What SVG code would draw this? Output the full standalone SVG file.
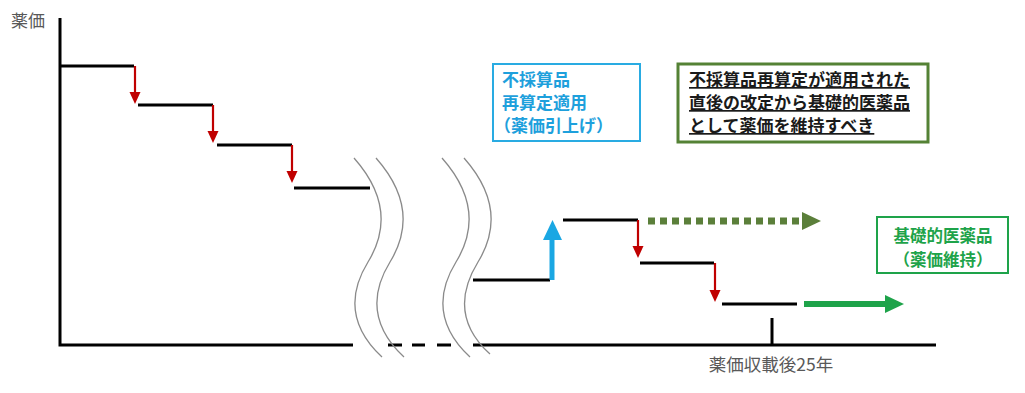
<svg xmlns="http://www.w3.org/2000/svg" width="1025" height="393" viewBox="0 0 1025 393">
<style>
.ax{stroke:#000;stroke-width:3;fill:none}
.st{stroke:#000;stroke-width:3;fill:none}
.wv{stroke:#8a8a8a;stroke-width:1.3;fill:none}
.red{stroke:#c00000;stroke-width:2.2;fill:none}
.redh{fill:#c00000}
.lbl{font-family:"Noto Sans CJK JP","Noto Sans",sans-serif;fill:#595959}
.bt{font-family:"Noto Sans CJK JP","Noto Sans",sans-serif;font-weight:bold;font-size:17px}
</style>
<rect width="1025" height="393" fill="#fff"/>
<g id="axes">
  <text class="lbl" x="11" y="27" font-size="17">薬価</text>
  <path class="ax" d="M60,18 V345 H353"/>
  <path class="ax" d="M388,345 H402 M412,345 H425 M437,345 H451"/>
  <path class="ax" d="M473,345 H936"/>
  <path class="ax" d="M772,318 V345"/>
  <text class="lbl" x="771" y="371" font-size="17.5" text-anchor="middle">薬価収載後25年</text>
</g>
<g id="breaks">
  <path class="wv" d="M354,158 Q400,210 368,262 Q336,314 382,357"/>
  <path class="wv" d="M376,158 Q422,210 390,262 Q358,314 404,357"/>
  <path class="wv" d="M442,158 Q488,210 456,262 Q424,314 470,357"/>
  <path class="wv" d="M464,158 Q510,210 478,262 Q446,314 490,354"/>
</g>
<g id="steps">
  <path class="st" d="M60,66 H134"/>
  <path class="st" d="M138,105 H213"/>
  <path class="st" d="M217,145 H292"/>
  <path class="st" d="M294,188 H370"/>
  <path class="st" d="M473,280 H550"/>
  <path class="st" d="M563,220 H638"/>
  <path class="st" d="M640,263 H714"/>
  <path class="st" d="M722,304 H797"/>
</g>
<g id="connectors">
  <path class="red" d="M135,66 V95"/><polygon class="redh" points="129.5,92 140.5,92 135,104"/>
  <path class="red" d="M213,105 V134"/><polygon class="redh" points="207.5,131 218.5,131 213,143"/>
  <path class="red" d="M292,145 V174"/><polygon class="redh" points="286.5,171 297.5,171 292,183"/>
  <path class="red" d="M638,220 V249"/><polygon class="redh" points="632.5,246 643.5,246 638,258"/>
  <path class="red" d="M715,263 V293"/><polygon class="redh" points="709.5,290 720.5,290 715,302"/>
  <path d="M552,280 V238" stroke="#1aa7e3" stroke-width="5" fill="none"/>
  <polygon points="543,240 562,240 552.5,220" fill="#1aa7e3"/>
  <path d="M648,221 H800" stroke="#5b7f3a" stroke-width="7" stroke-dasharray="7 5" fill="none"/>
  <polygon points="802,212 802,230 821,221" fill="#5b7f3a"/>
  <path d="M804,304 H888" stroke="#1ea34a" stroke-width="6" fill="none"/>
  <polygon points="885,295 885,313 904,304" fill="#1ea34a"/>
</g>
<g id="box-raise">
  <rect x="493" y="64" width="147" height="77" fill="#fff" stroke="#29abe2" stroke-width="2"/>
  <text class="bt" fill="#1ea0dc" x="502" y="86">不採算品</text>
  <text class="bt" fill="#1ea0dc" x="502" y="109">再算定適用</text>
  <text class="bt" fill="#1ea0dc" x="494" y="132">（薬価引上げ）</text>
</g>
<g id="box-proposal">
  <rect x="678" y="64" width="250" height="78" fill="#fff" stroke="#548235" stroke-width="3"/>
  <text class="bt" fill="#1a1a1a" x="689" y="86" text-decoration="underline">不採算品再算定が適用された</text>
  <text class="bt" fill="#1a1a1a" x="689" y="109" text-decoration="underline">直後の改定から基礎的医薬品</text>
  <text class="bt" fill="#1a1a1a" x="689" y="132" text-decoration="underline">として薬価を維持すべき</text>
</g>
<g id="box-basic">
  <rect x="877" y="217" width="131" height="56" fill="#fff" stroke="#1ea34a" stroke-width="2"/>
  <text class="bt" fill="#1ea34a" x="943" y="242" text-anchor="middle" style="font-size:16.5px">基礎的医薬品</text>
  <text class="bt" fill="#1ea34a" x="943" y="266" text-anchor="middle" style="font-size:16.5px">（薬価維持）</text>
</g>
</svg>
